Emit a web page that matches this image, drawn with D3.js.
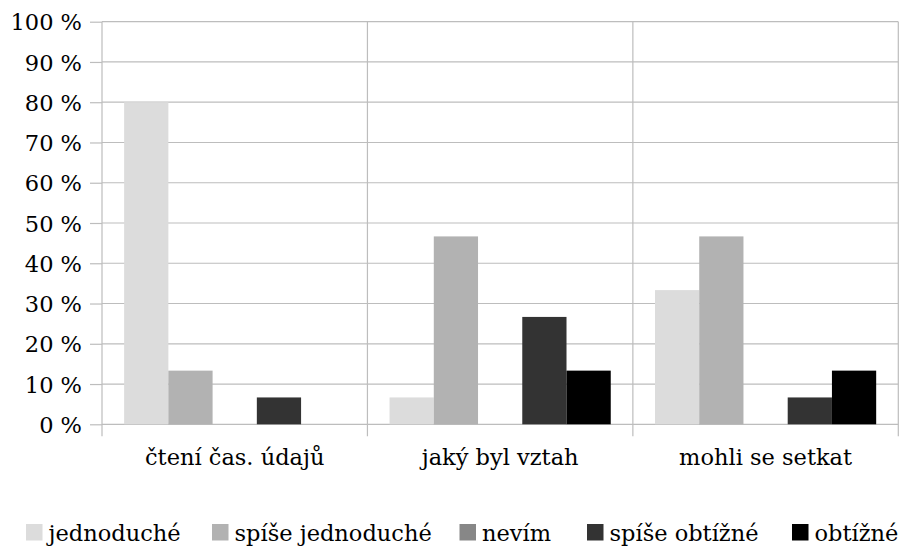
<!DOCTYPE html>
<html>
<head>
<meta charset="utf-8">
<script src="https://cdn.jsdelivr.net/npm/d3@7"></script>
<style>
  html, body { margin: 0; padding: 0; background: #fff; }
  svg { display: block; }
</style>
</head>
<body>
<svg id="chart" width="900" height="546"></svg>
<script>
// Question categories along the x axis
const categories = ["čtení čas. údajů", "jaký byl vztah", "mohli se setkat"];

// Answer options (series), in legend order
const seriesNames = ["jednoduché", "spíše jednoduché", "nevím", "spíše obtížné", "obtížné"];

// Share of answers (%) per series, one value per category
const jednoduche       = [80.0, 6.67, 33.33];
const spiseJednoduche  = [13.33, 46.67, 46.67];
const nevim            = [0, 0, 0];
const spiseObtizne     = [6.67, 26.67, 6.67];
const obtizne          = [0, 13.33, 13.33];
const seriesValues = [jednoduche, spiseJednoduche, nevim, spiseObtizne, obtizne];

// Y axis tick values (percent)
const yTicks = [0, 10, 20, 30, 40, 50, 60, 70, 80, 90, 100];

const seriesColors = ["#dcdcdc", "#b2b2b2", "#878787", "#333333", "#000000"];

const svg = d3.select("#chart");
const plot = { left: 102, right: 898.3, top: 21.7, bottom: 424.3 };
const fontSize = 22.5;
const gridColor = "#bdbdbd";
const serif = '"DejaVu Serif", serif';

svg.attr("font-family", serif);

const x0 = d3.scaleBand()
  .domain(categories)
  .range([plot.left, plot.right])
  .paddingInner(0).paddingOuter(0);

const x1 = d3.scaleBand()
  .domain(seriesNames)
  .range([0, x0.bandwidth()])
  .paddingInner(0)
  .paddingOuter(0.5);

const y = d3.scaleLinear().domain([0, 100]).range([plot.bottom, plot.top]);

// Horizontal gridlines
svg.append("g")
  .selectAll("line")
  .data(yTicks)
  .join("line")
  .attr("x1", plot.left).attr("x2", plot.right)
  .attr("y1", d => y(d)).attr("y2", d => y(d))
  .attr("stroke", gridColor).attr("stroke-width", 1.2);

// Y axis: outward ticks on the left and percent labels
const gY = svg.append("g")
  .attr("transform", `translate(${plot.left},0)`)
  .call(d3.axisLeft(y).tickValues(yTicks).tickSize(12).tickFormat(d => d + " %"));
gY.attr("font-family", serif).attr("font-size", fontSize);
gY.select(".domain").remove();
gY.selectAll(".tick line").attr("stroke", gridColor).attr("stroke-width", 1.2);
gY.selectAll(".tick text")
  .attr("x", -20)
  .attr("dy", "0.36em")
  .attr("fill", "#000");

// Vertical category separators (full height plus tick below the axis)
const sepX = categories.map(c => x0(c)).concat([plot.right]);
svg.append("g")
  .selectAll("line")
  .data(sepX)
  .join("line")
  .attr("x1", d => d).attr("x2", d => d)
  .attr("y1", plot.top).attr("y2", plot.bottom + 12)
  .attr("stroke", gridColor).attr("stroke-width", 1.2);

// Bars
const rows = categories.map((c, ci) => ({
  category: c,
  values: seriesNames.map((s, si) => ({ series: s, value: seriesValues[si][ci], color: seriesColors[si] }))
}));

svg.append("g")
  .selectAll("g")
  .data(rows)
  .join("g")
  .attr("transform", d => `translate(${x0(d.category)},0)`)
  .selectAll("rect")
  .data(d => d.values)
  .join("rect")
  .attr("x", d => x1(d.series))
  .attr("width", x1.bandwidth())
  .attr("y", d => y(d.value))
  .attr("height", d => y(0) - y(d.value))
  .attr("fill", d => d.color);

// Category labels
svg.append("g")
  .selectAll("text")
  .data(categories)
  .join("text")
  .attr("x", d => x0(d) + x0.bandwidth() / 2)
  .attr("y", 465)
  .attr("text-anchor", "middle")
  .attr("font-size", fontSize)
  .attr("fill", "#000")
  .text(d => d);

// Legend
const legendX = [26, 212, 459.5, 587, 792];
const sw = 16.5;
const legend = svg.append("g")
  .selectAll("g")
  .data(seriesNames)
  .join("g")
  .attr("transform", (d, i) => `translate(${legendX[i]},0)`);
legend.append("rect")
  .attr("x", 0).attr("y", 524)
  .attr("width", sw).attr("height", sw)
  .attr("fill", (d, i) => seriesColors[i]);
legend.append("text")
  .attr("x", sw + 6)
  .attr("y", 541)
  .attr("font-size", fontSize)
  .attr("fill", "#000")
  .text(d => d);
</script>
</body>
</html>
